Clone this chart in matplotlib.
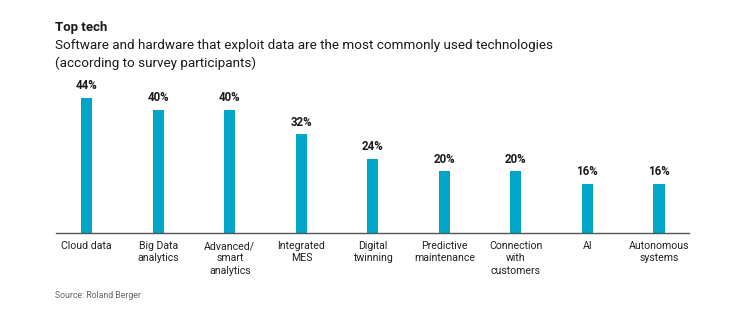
import matplotlib
matplotlib.use("Agg")
import matplotlib.pyplot as plt

categories = ["Cloud data", "Big Data\nanalytics", "Advanced/\nsmart\nanalytics", "Integrated\nMES",
              "Digital\ntwinning", "Predictive\nmaintenance", "Connection\nwith\ncustomers", "AI",
              "Autonomous\nsystems"]
values = [44, 40, 40, 32, 24, 20, 20, 16, 16]
value_labels = ["44%", "40%", "40%", "32%", "24%", "20%", "20%", "16%", "16%"]

plt.rcParams['font.family'] = ['Roboto', 'DejaVu Sans']

W, H = 746, 322
fig = plt.figure(figsize=(W/100, H/100), dpi=100)
fig.patch.set_facecolor("white")

left, right = 56/W, 689/W
base_y, top_y = 232.7, 90
ax = fig.add_axes([left, 1-base_y/H, right-left, (base_y-top_y)/H])

x = list(range(len(categories)))
ax.bar(x, values, width=0.155, color="#00a5c8", zorder=2)
ax.set_xlim(-0.43, 8.42)
ax.set_ylim(0, (base_y-top_y)/3.07)

for xi, v, lab in zip(x, values, value_labels):
    ax.annotate(lab, (xi, v), xytext=(0, 4), textcoords="offset points",
                ha="center", va="bottom", fontsize=8.3, fontweight="bold", color="#1a1a1a")

for s in ["top", "right", "left"]:
    ax.spines[s].set_visible(False)
ax.spines["bottom"].set_color("#555555")
ax.spines["bottom"].set_linewidth(1.0)
ax.set_yticks([])
ax.set_xticks(x)
ax.set_xticklabels(categories, fontsize=7.6, color="#222222", linespacing=1.3, va="top")
ax.tick_params(axis="x", length=0, pad=6)

fig.text(55/W, 1-28/H, "Top tech", fontsize=9.5, fontweight="bold", color="#1a1a1a", va="center", ha="left")
fig.text(55/W, 1-46/H, "Software and hardware that exploit data are the most commonly used technologies",
         fontsize=9.7, color="#1a1a1a", va="center", ha="left")
fig.text(55/W, 1-63/H, "(according to survey participants)",
         fontsize=9.7, color="#1a1a1a", va="center", ha="left")
fig.text(55/W, 1-296/H, "Source: Roland Berger", fontsize=6.3, color="#666666", va="center", ha="left")

fig.savefig("out.png", dpi=100, facecolor="white")
